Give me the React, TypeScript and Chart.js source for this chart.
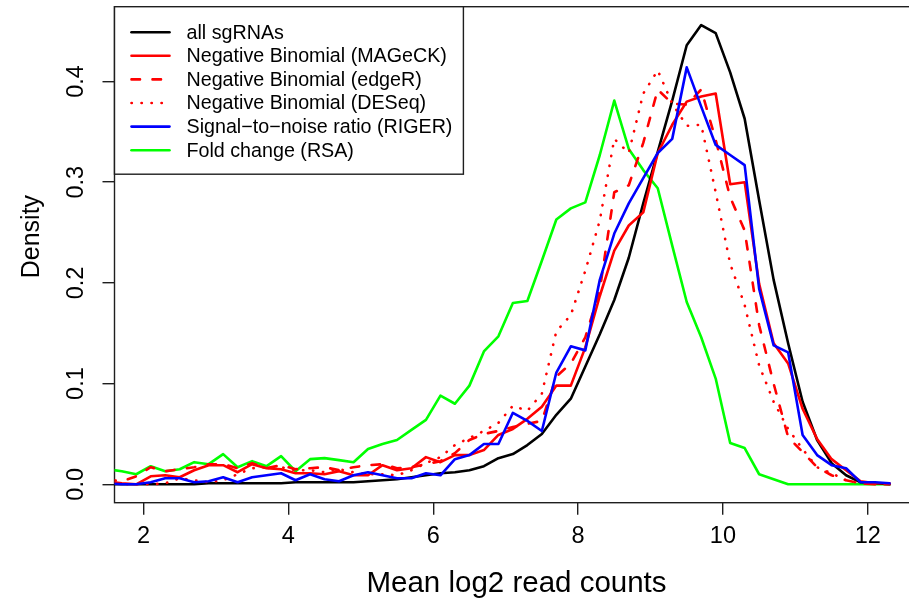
import React, { useEffect, useRef } from "react";
import { Chart, registerables } from "chart.js";

Chart.register(...registerables);

// Bin centres (mean log2 read counts)
const xValues = [
  1.5, 1.7, 1.9, 2.1, 2.3, 2.5, 2.7, 2.9, 3.1, 3.3, 3.5, 3.7, 3.9, 4.1, 4.3, 4.5, 4.7, 4.9, 5.1,
  5.3, 5.5, 5.7, 5.9, 6.1, 6.3, 6.5, 6.7, 6.9, 7.1, 7.3, 7.5, 7.7, 7.9, 8.1, 8.3, 8.5, 8.7, 8.9,
  9.1, 9.3, 9.5, 9.7, 9.9, 10.1, 10.3, 10.5, 10.7, 10.9, 11.1, 11.3, 11.5, 11.7, 11.9, 12.1, 12.3,
];

const allSgRNAs = [
  0, 0, 0, 0, 0, 0, 0, 0.001, 0.001, 0.001, 0.001, 0.001, 0.001, 0.002, 0.002, 0.002, 0.002, 0.002,
  0.003, 0.004, 0.005, 0.007, 0.009, 0.011, 0.012, 0.014, 0.018, 0.026, 0.03, 0.039, 0.05, 0.069,
  0.085, 0.117, 0.149, 0.183, 0.225, 0.279, 0.33, 0.381, 0.436, 0.456, 0.448, 0.409, 0.363, 0.282,
  0.203, 0.14, 0.082, 0.044, 0.021, 0.009, 0.002, 0.001, 0,
];

const nbMAGeCK = [
  0.003, 0.001, 0, 0.008, 0.009, 0.007, 0.014, 0.019, 0.019, 0.012, 0.02, 0.016, 0.015, 0.011,
  0.011, 0.01, 0.013, 0.009, 0.009, 0.019, 0.014, 0.016, 0.027, 0.022, 0.029, 0.029, 0.034, 0.049,
  0.055, 0.065, 0.077, 0.098, 0.098, 0.136, 0.187, 0.232, 0.257, 0.27, 0.329, 0.357, 0.38, 0.385,
  0.388, 0.298, 0.3, 0.199, 0.14, 0.12, 0.075, 0.045, 0.025, 0.014, 0.003, 0.001, 0.001,
];

const nbEdgeR = [
  0.005, 0.003, 0.008, 0.017, 0.013, 0.015, 0.017, 0.02, 0.02, 0.016, 0.021, 0.016, 0.019, 0.015,
  0.016, 0.017, 0.014, 0.017, 0.019, 0.02, 0.016, 0.017, 0.02, 0.023, 0.031, 0.044, 0.05, 0.053,
  0.057, 0.06, 0.063, 0.107, 0.12, 0.146, 0.193, 0.29, 0.297, 0.339, 0.392, 0.378, 0.377, 0.392,
  0.342, 0.285, 0.252, 0.158, 0.1, 0.047, 0.032, 0.017, 0.009, 0.004, 0.001, 0, 0,
];

const nbDESeq = [
  0.002, 0, 0, 0, 0.001, 0.006, 0.004, 0.002, 0.004, 0.01, 0.016, 0.017, 0.017, 0.014, 0.014,
  0.012, 0.015, 0.012, 0.01, 0.01, 0.009, 0.014, 0.021, 0.027, 0.039, 0.046, 0.053, 0.061, 0.078,
  0.073, 0.09, 0.152, 0.168, 0.212, 0.262, 0.343, 0.329, 0.388, 0.411, 0.378, 0.356, 0.357, 0.29,
  0.219, 0.178, 0.118, 0.082, 0.055, 0.035, 0.017, 0.011, 0.004, 0.001, 0, 0,
];

const snrRIGER = [
  0.001, 0, 0, 0.002, 0.006, 0.006, 0.002, 0.003, 0.007, 0.002, 0.007, 0.009, 0.011, 0.004, 0.01,
  0.005, 0.003, 0.009, 0.012, 0.009, 0.006, 0.006, 0.011, 0.009, 0.025, 0.029, 0.04, 0.04, 0.071,
  0.063, 0.053, 0.111, 0.137, 0.133, 0.203, 0.249, 0.279, 0.304, 0.329, 0.343, 0.414, 0.375, 0.337,
  0.327, 0.317, 0.194, 0.138, 0.131, 0.049, 0.029, 0.019, 0.016, 0.002, 0.002, 0.001,
];

const foldRSA = [
  0.015, 0.013, 0.01, 0.018, 0.013, 0.015, 0.022, 0.02, 0.03, 0.017, 0.023, 0.018, 0.028, 0.013,
  0.025, 0.026, 0.024, 0.022, 0.035, 0.04, 0.044, 0.054, 0.064, 0.088, 0.08, 0.098, 0.132, 0.147,
  0.18, 0.182, 0.222, 0.263, 0.274, 0.28, 0.327, 0.381, 0.333, 0.312, 0.294, 0.237, 0.181, 0.146,
  0.105, 0.041, 0.036, 0.01, 0.005, 0, 0, 0, 0, 0, 0, 0, 0,
];

const seriesLabels = [
  "all sgRNAs",
  "Negative Binomial (MAGeCK)",
  "Negative Binomial (edgeR)",
  "Negative Binomial (DESeq)",
  "Signal\u2212to\u2212noise ratio (RIGER)",
  "Fold change (RSA)",
];

const xTicks = [2, 4, 6, 8, 10, 12];
const yTicks = [0, 0.1, 0.2, 0.3, 0.4];
const yTickLabels = ["0.0", "0.1", "0.2", "0.3", "0.4"];
const xTitle = "Mean log2 read counts";
const yTitle = "Density";

const FONT = "'Liberation Sans', Arial, Helvetica, sans-serif";
const TICK_SIZE = 23.5;
const TITLE_SIZE = 29.5;
const YTITLE_SIZE = 25;
const LEGEND_SIZE = 19.7;
const LW = 2.6;

const rStyle = {
  id: "rStyle",
  beforeDatasetsDraw(chart: any) {
    const { ctx, chartArea: a } = chart;
    ctx.save();
    ctx.strokeStyle = "#1e1e1e";
    ctx.lineWidth = 1.4;
    ctx.strokeRect(a.left, a.top, a.right - a.left, a.bottom - a.top);
    ctx.restore();
  },
  afterDraw(chart: any) {
    const { ctx, chartArea: a } = chart;
    const ys = chart.scales.y;
    ctx.save();
    // y tick labels, parallel to the axis (R style)
    ctx.fillStyle = "#000";
    ctx.font = `${TICK_SIZE}px ${FONT}`;
    ctx.textAlign = "center";
    ctx.textBaseline = "middle";
    yTicks.forEach((v, i) => {
      const py = ys.getPixelForValue(v);
      ctx.save();
      ctx.translate(a.left - 38, py);
      ctx.rotate(-Math.PI / 2);
      ctx.fillText(yTickLabels[i], 0, 0);
      ctx.restore();
    });

    // y axis title
    ctx.save();
    ctx.font = `${YTITLE_SIZE}px ${FONT}`;
    ctx.translate(a.left - 82, ys.getPixelForValue(0.246));
    ctx.rotate(-Math.PI / 2);
    ctx.fillText(yTitle, 0, 0);
    ctx.restore();

    // legend box (top-left, R style)
    const ds = chart.data.datasets;
    ctx.font = `${LEGEND_SIZE}px ${FONT}`;
    const left = a.left;
    const top = a.top;
    const lineX0 = left + 17;
    const lineX1 = left + 55;
    const textX = left + 72;
    const rowH = 23.6;
    const firstRow = top + 25.5;
    let maxW = 0;
    ds.forEach((d: any) => {
      maxW = Math.max(maxW, ctx.measureText(d.label).width);
    });
    const w = textX - left + maxW + 11;
    const h = 25.5 + rowH * (ds.length - 1) + 24;
    ctx.fillStyle = "#fff";
    ctx.fillRect(left, top, w, h);
    ctx.strokeStyle = "#1e1e1e";
    ctx.lineWidth = 1.4;
    ctx.setLineDash([]);
    ctx.strokeRect(left, top, w, h);
    ds.forEach((d: any, i: number) => {
      const cy = firstRow + i * rowH;
      ctx.save();
      ctx.strokeStyle = d.borderColor;
      ctx.lineWidth = d.borderWidth;
      ctx.lineCap = d.borderCapStyle || "round";
      ctx.setLineDash(d.borderDash || []);
      ctx.beginPath();
      ctx.moveTo(lineX0, cy);
      ctx.lineTo(lineX1, cy);
      ctx.stroke();
      ctx.restore();
      ctx.fillStyle = "#000";
      ctx.textAlign = "left";
      ctx.textBaseline = "middle";
      ctx.fillText(d.label, textX, cy + 1);
    });
    ctx.restore();
  },
};

function toPoints(arr: number[]) {
  return xValues.map((x, i) => ({ x, y: arr[i] }));
}

export default function App() {
  const ref = useRef<HTMLCanvasElement | null>(null);

  useEffect(() => {
    if (!ref.current) return;
    const base = {
      pointRadius: 0,
      borderWidth: LW,
      tension: 0,
      fill: false,
      borderJoinStyle: "round",
    };
    const chart = new Chart(ref.current, {
      type: "line",
      data: {
        datasets: [
          { ...base, label: seriesLabels[0], data: toPoints(allSgRNAs), borderColor: "#000000", borderCapStyle: "round", order: 4 },
          { ...base, label: seriesLabels[1], data: toPoints(nbMAGeCK), borderColor: "#ff0000", borderCapStyle: "round", order: 3 },
          { ...base, label: seriesLabels[2], data: toPoints(nbEdgeR), borderColor: "#ff0000", borderCapStyle: "round", borderDash: [8.5, 12.5], order: 2 },
          { ...base, label: seriesLabels[3], data: toPoints(nbDESeq), borderColor: "#ff0000", borderCapStyle: "round", borderDash: [0.3, 9.7], order: 1 },
          { ...base, label: seriesLabels[4], data: toPoints(snrRIGER), borderColor: "#0000ff", borderCapStyle: "round", order: 0 },
          { ...base, label: seriesLabels[5], data: toPoints(foldRSA), borderColor: "#00ff00", borderCapStyle: "round", order: 5 },
        ] as any,
      },
      options: {
        responsive: false,
        animation: false,
        events: [],
        layout: { padding: { top: 6.7, right: 0.5, bottom: 0, left: 0 } },
        plugins: {
          legend: { display: false },
          tooltip: { enabled: false },
        },
        scales: {
          x: {
            type: "linear",
            min: 1.6,
            max: 12.7,
            position: "bottom",
            afterBuildTicks: (s: any) => {
              s.ticks = xTicks.map((v) => ({ value: v }));
            },
            afterFit: (s: any) => {
              s.height = 97.3;
            },
            border: { display: false },
            grid: {
              drawOnChartArea: false,
              drawTicks: true,
              tickLength: 12,
              color: "#1e1e1e",
              lineWidth: 1.4,
            },
            ticks: {
              autoSkip: false,
              maxRotation: 0,
              minRotation: 0,
              padding: 8,
              color: "#000",
              font: { family: FONT, size: TICK_SIZE },
              callback: (v: any) => String(v),
            },
            title: {
              display: true,
              text: xTitle,
              color: "#000",
              font: { family: FONT, size: TITLE_SIZE },
              padding: { top: 0, bottom: -2 },
            },
          },
          y: {
            type: "linear",
            min: -0.01825,
            max: 0.47425,
            position: "left",
            afterBuildTicks: (s: any) => {
              s.ticks = yTicks.map((v) => ({ value: v }));
            },
            afterFit: (s: any) => {
              s.width = 114.5;
            },
            border: { display: false },
            grid: {
              drawOnChartArea: false,
              drawTicks: true,
              tickLength: 12,
              color: "#1e1e1e",
              lineWidth: 1.4,
            },
            ticks: { display: false },
            title: { display: false, text: yTitle },
          },
        },
      } as any,
      plugins: [rStyle],
    });
    return () => chart.destroy();
  }, []);

  return (
    <div
      style={{
        position: "absolute",
        left: 0,
        top: 0,
        width: 909,
        height: 600,
        overflow: "hidden",
        background: "#ffffff",
      }}
    >
      <canvas ref={ref} width={919} height={600} style={{ display: "block" }} />
    </div>
  );
}
